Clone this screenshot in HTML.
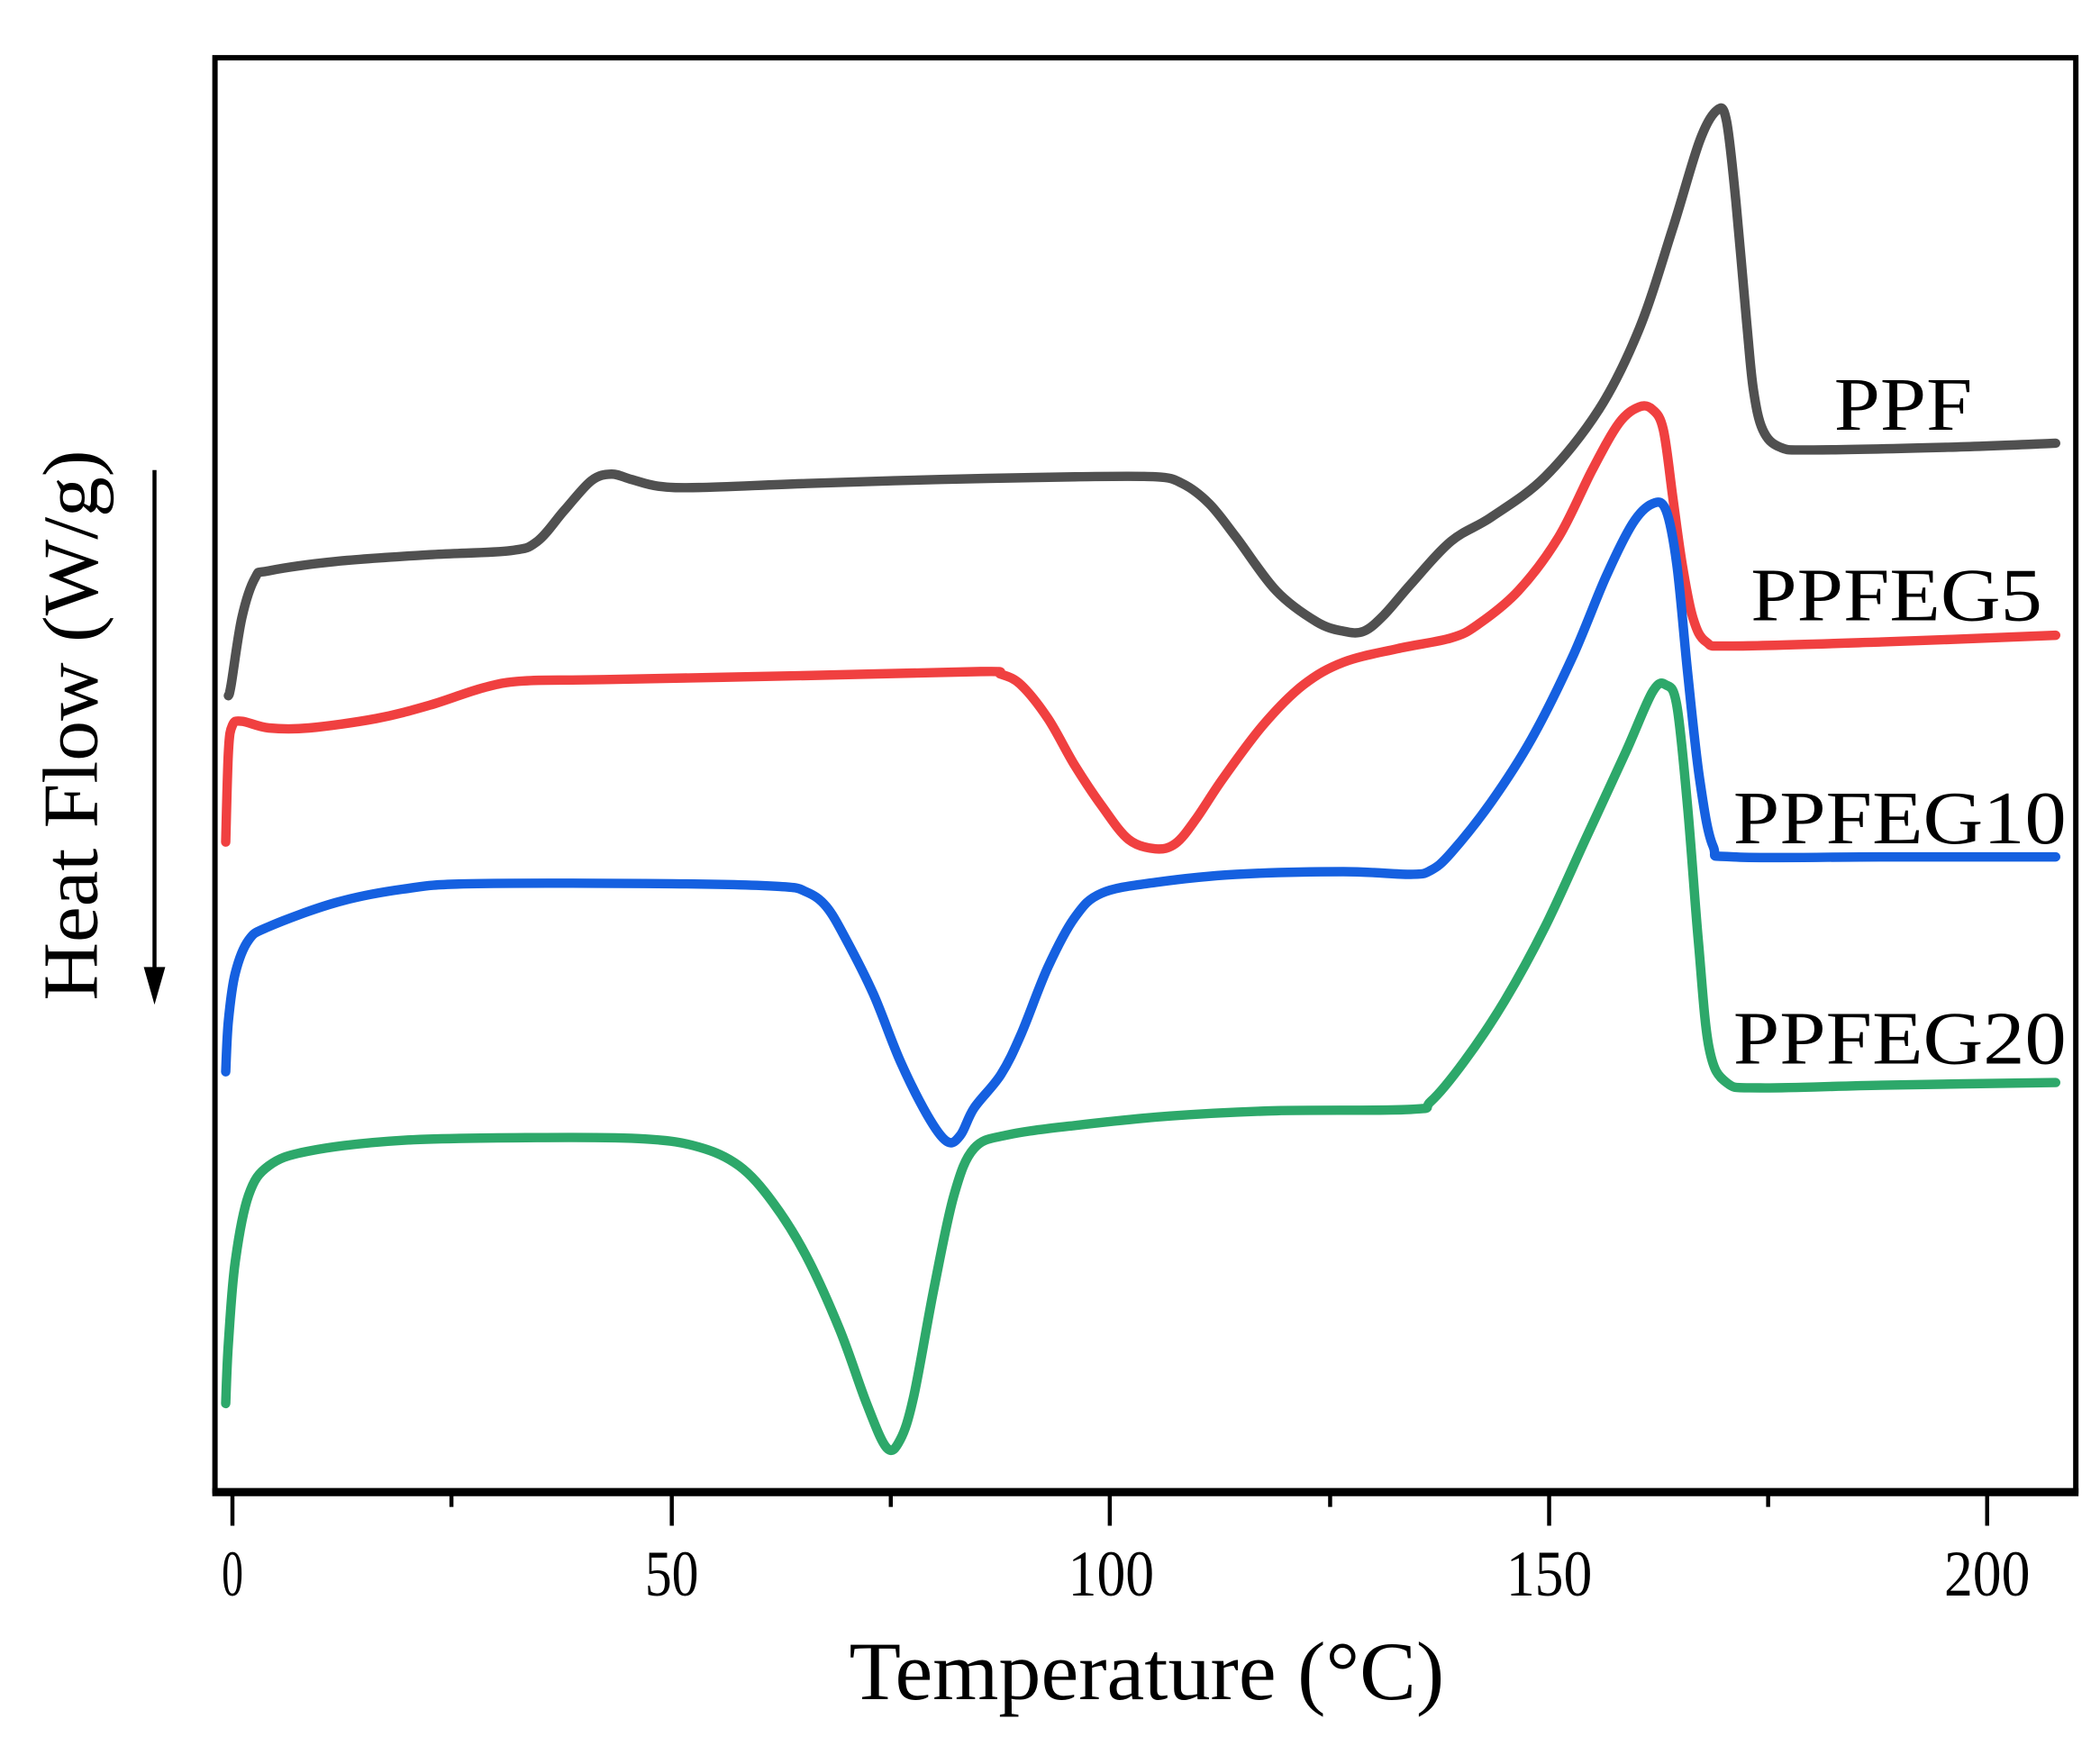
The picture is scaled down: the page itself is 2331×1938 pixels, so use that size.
<!DOCTYPE html>
<html><head><meta charset="utf-8"><style>html,body{margin:0;padding:0;background:#fff}svg{display:block}</style></head>
<body>
<svg width="2331" height="1938" viewBox="0 0 1563 1300" preserveAspectRatio="none" xmlns="http://www.w3.org/2000/svg" font-family="Liberation Serif, serif">
<rect x="0" y="0" width="1563" height="1300" fill="#fff"/>
<rect x="160" y="43" width="1385" height="1067" fill="none" stroke="#000" stroke-width="4"/>
<line x1="158" y1="1111" x2="1547" y2="1111" stroke="#000" stroke-width="6"/>
<g stroke="#000" stroke-width="3">
<line x1="173" y1="1110" x2="173" y2="1136"/><line x1="500" y1="1110" x2="500" y2="1136"/><line x1="826" y1="1110" x2="826" y2="1136"/><line x1="1153" y1="1110" x2="1153" y2="1136"/><line x1="1479" y1="1110" x2="1479" y2="1136"/>
<line x1="336" y1="1110" x2="336" y2="1122"/><line x1="663" y1="1110" x2="663" y2="1122"/><line x1="990" y1="1110" x2="990" y2="1122"/><line x1="1316" y1="1110" x2="1316" y2="1122"/>
</g>
<g font-size="48" fill="#000" lengthAdjust="spacingAndGlyphs">
<text x="165" y="1188" textLength="16" lengthAdjust="spacingAndGlyphs">0</text>
<text x="480" y="1188" textLength="40" lengthAdjust="spacingAndGlyphs">50</text>
<text x="795" y="1188" textLength="64" lengthAdjust="spacingAndGlyphs">100</text>
<text x="1121" y="1188" textLength="64" lengthAdjust="spacingAndGlyphs">150</text>
<text x="1447" y="1188" textLength="64" lengthAdjust="spacingAndGlyphs">200</text>
</g>
<text x="632" y="1265" font-size="62" textLength="443" lengthAdjust="spacingAndGlyphs">Temperature (°C)</text>
<text transform="translate(72,745) rotate(-90)" font-size="58" textLength="410" lengthAdjust="spacingAndGlyphs">Heat Flow (W/g)</text>
<line x1="115" y1="350" x2="115" y2="725" stroke="#000" stroke-width="3"/>
<polygon points="107,720 123,720 115,748" fill="#000"/>
<g id="curves" fill="none" stroke-width="7" stroke-linejoin="round" stroke-linecap="round">
<polyline stroke="#505050" points="170,518 172,510 180,460 190,430 200,425 250,418 320,413 380,410 400,403 420,380 440,358 455,353 470,357 490,362 520,363 600,360 700,357 800,355 860,355 880,360 900,375 920,400 950,440 980,463 1000,470 1015,470 1030,458 1050,435 1080,403 1110,385 1150,355 1190,305 1220,245 1245,170 1265,105 1278,82 1285,90 1292,150 1300,240 1305,290 1312,320 1325,333 1350,335 1450,333 1530,330"/>
<polyline stroke="#f04040" points="168,627 170,560 173,540 180,537 200,542 230,542 280,535 320,525 360,512 390,507 450,506 600,503 730,500 745,502 760,510 780,535 800,570 820,600 840,625 860,632 875,628 890,610 910,580 940,540 970,510 1000,493 1040,483 1080,475 1100,465 1130,440 1160,400 1185,350 1205,315 1220,303 1230,305 1238,320 1245,370 1252,420 1260,460 1270,478 1290,481 1400,478 1530,473"/>
<polyline stroke="#1560e0" points="168,798 170,760 175,725 185,700 200,690 250,672 300,662 350,658 500,658 580,660 600,664 615,675 630,700 650,740 670,790 690,830 705,850 715,845 725,825 745,800 760,770 780,720 800,683 820,665 860,657 920,651 1000,649 1050,651 1065,648 1080,635 1110,597 1140,550 1170,490 1195,430 1215,390 1230,375 1240,380 1248,420 1256,500 1265,580 1275,630 1290,638 1400,638 1530,638"/>
<polyline stroke="#2da86a" points="168,1045 170,1000 175,940 185,890 200,868 230,857 300,849 400,847 480,848 520,854 550,868 575,895 600,935 625,990 645,1045 660,1078 670,1072 680,1040 695,960 710,890 725,855 750,845 800,838 870,831 950,827 1050,826 1065,820 1090,790 1120,745 1150,690 1180,625 1210,560 1230,515 1240,510 1248,525 1256,600 1264,700 1272,780 1285,806 1310,810 1400,808 1530,806"/>
</g>
<g font-size="56" fill="#000">
<text x="1365" y="320" textLength="103" lengthAdjust="spacingAndGlyphs">PPF</text>
<text x="1303" y="462" textLength="217" lengthAdjust="spacingAndGlyphs">PPFEG5</text>
<text x="1290" y="628" textLength="248" lengthAdjust="spacingAndGlyphs">PPFEG10</text>
<text x="1290" y="792" textLength="248" lengthAdjust="spacingAndGlyphs">PPFEG20</text>
</g>
</svg>
<script>
(function(){
var ns="http://www.w3.org/2000/svg";
document.querySelectorAll('#curves polyline').forEach(function(pl){
var nums=pl.getAttribute('points').trim().split(/[\s,]+/).map(Number);var p=[];
for(var i=0;i<nums.length;i+=2)p.push([nums[i],nums[i+1]]);
var d="M"+p[0][0]+","+p[0][1];
for(var i=0;i<p.length-1;i++){var a=p[Math.max(i-1,0)],b=p[i],c=p[i+1],e=p[Math.min(i+2,p.length-1)];
var c1=[b[0]+(c[0]-a[0])/6,b[1]+(c[1]-a[1])/6],c2=[c[0]-(e[0]-b[0])/6,c[1]-(e[1]-b[1])/6];
d+=" C"+c1[0].toFixed(1)+","+c1[1].toFixed(1)+" "+c2[0].toFixed(1)+","+c2[1].toFixed(1)+" "+c[0]+","+c[1];}
var path=document.createElementNS(ns,'path');path.setAttribute('d',d);path.setAttribute('stroke',pl.getAttribute('stroke'));
pl.parentNode.replaceChild(path,pl);});
})();
</script>
</body></html>
